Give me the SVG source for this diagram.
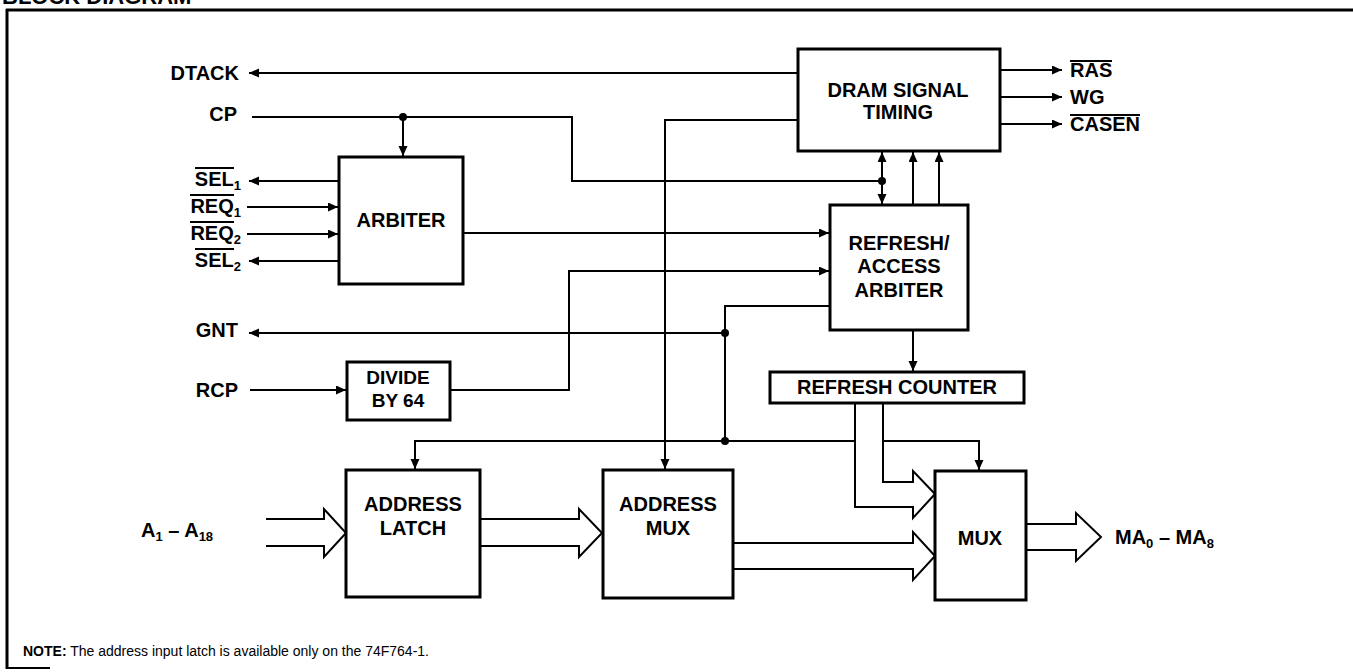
<svg xmlns="http://www.w3.org/2000/svg" width="1353" height="672" viewBox="0 0 1353 672">
<style>
text{font-family:"Liberation Sans",Arial,Helvetica,sans-serif;font-weight:bold;font-size:20px;fill:#000}
.box{fill:#fff;stroke:#000;stroke-width:3}
.w{fill:none;stroke:#000;stroke-width:2}
.bus{fill:#fff;stroke:#000;stroke-width:2;stroke-linejoin:miter}
.ol{stroke:#000;stroke-width:2}
.dot{fill:#000}
.note{font-size:14px;font-weight:normal}
.c{text-anchor:middle}
.e{text-anchor:end}
</style>
<defs>
<marker id="ah" markerUnits="userSpaceOnUse" markerWidth="11" markerHeight="10" refX="10" refY="4.5" orient="auto">
<path d="M0,0 L10,4.5 L0,9 z" fill="#000"/>
</marker>
</defs>
<rect width="1353" height="672" fill="#fff"/>

<g id="frame">
<text x="2" y="4" style="font-size:22px">BLOCK DIAGRAM</text>
<line x1="6" y1="10" x2="1353" y2="10" stroke="#000" stroke-width="3"/>
<line x1="7" y1="9" x2="7" y2="669" stroke="#000" stroke-width="3"/>
<line x1="6" y1="668" x2="50" y2="668" stroke="#000" stroke-width="2"/>
</g>

<g id="connectors">
<line class="w" x1="798" y1="73" x2="249" y2="73" marker-end="url(#ah)"/>
<polyline class="w" points="252,117 572,117 572,181 882,181"/>
<line class="w" x1="403" y1="117" x2="403" y2="156" marker-end="url(#ah)"/>
<line class="w" x1="882" y1="181" x2="882" y2="152" marker-end="url(#ah)"/>
<line class="w" x1="882" y1="181" x2="882" y2="204" marker-end="url(#ah)"/>
<line class="w" x1="913" y1="205" x2="913" y2="152" marker-end="url(#ah)"/>
<line class="w" x1="939" y1="205" x2="939" y2="152" marker-end="url(#ah)"/>
<line class="w" x1="339" y1="181" x2="249" y2="181" marker-end="url(#ah)"/>
<line class="w" x1="247" y1="207" x2="338" y2="207" marker-end="url(#ah)"/>
<line class="w" x1="247" y1="234" x2="338" y2="234" marker-end="url(#ah)"/>
<line class="w" x1="339" y1="261" x2="249" y2="261" marker-end="url(#ah)"/>
<line class="w" x1="463" y1="233" x2="829" y2="233" marker-end="url(#ah)"/>
<line class="w" x1="250" y1="390" x2="346" y2="390" marker-end="url(#ah)"/>
<polyline class="w" points="450,390 569,390 569,271 829,271" marker-end="url(#ah)"/>
<polyline class="w" points="798,120 665,120 665,469" marker-end="url(#ah)"/>
<polyline class="w" points="830,306 725,306 725,441"/>
<line class="w" x1="725" y1="333" x2="249" y2="333" marker-end="url(#ah)"/>
<polyline class="w" points="725,441 415,441 415,469" marker-end="url(#ah)"/>
<line class="w" x1="725" y1="441" x2="855" y2="441"/>
<polyline class="w" points="883,441 979,441 979,470" marker-end="url(#ah)"/>
<line class="w" x1="913" y1="330" x2="913" y2="371" marker-end="url(#ah)"/>
<path class="bus" d="M266,519 L324,519 L324,509 L346,533 L324,557 L324,546 L266,546"/>
<path class="bus" d="M480,519 L579,519 L579,509 L602,533 L579,557 L579,546 L480,546"/>
<path class="bus" d="M733,543 L913,543 L913,532 L935,556 L913,580 L913,569 L733,569"/>
<path class="bus" d="M883,403 L883,482 L913,482 L913,471 L935,494 L913,518 L913,507 L855,507 L855,403"/>
<path class="bus" d="M1026,524 L1076,524 L1076,513 L1101,537 L1076,561 L1076,550 L1026,550"/>
<circle class="dot" cx="403" cy="117" r="4"/>
<circle class="dot" cx="882" cy="181" r="4"/>
<circle class="dot" cx="725" cy="333" r="4"/>
<circle class="dot" cx="725" cy="441" r="4"/>
<line class="w" x1="1000" y1="70" x2="1062" y2="70" marker-end="url(#ah)"/>
<line class="w" x1="1000" y1="97" x2="1062" y2="97" marker-end="url(#ah)"/>
<line class="w" x1="1000" y1="124" x2="1062" y2="124" marker-end="url(#ah)"/>
</g>

<g id="labels">
<text class="e" x="239" y="80">DTACK</text>
<text class="e" x="237" y="121">CP</text>
<text class="e" x="241" y="186">SEL<tspan dy="4" style="font-size:13px">1</tspan></text>
<line class="ol" x1="195" y1="168" x2="234" y2="168"/>
<text class="e" x="241" y="213">REQ<tspan dy="4" style="font-size:13px">1</tspan></text>
<line class="ol" x1="190" y1="195" x2="234" y2="195"/>
<text class="e" x="241" y="240">REQ<tspan dy="4" style="font-size:13px">2</tspan></text>
<line class="ol" x1="190" y1="222" x2="234" y2="222"/>
<text class="e" x="241" y="267">SEL<tspan dy="4" style="font-size:13px">2</tspan></text>
<line class="ol" x1="195" y1="249" x2="234" y2="249"/>
<text class="e" x="238" y="337">GNT</text>
<text class="e" x="238" y="397">RCP</text>
<text x="141" y="537">A<tspan dy="4" style="font-size:13px">1</tspan><tspan dy="-4"> – A</tspan><tspan dy="4" style="font-size:13px">18</tspan></text>
<text x="1115" y="544">MA<tspan dy="4" style="font-size:13px">0</tspan><tspan dy="-4"> – MA</tspan><tspan dy="4" style="font-size:13px">8</tspan></text>
<text x="1070" y="77">RAS</text>
<line class="ol" x1="1070" y1="61" x2="1112" y2="61"/>
<text x="1070" y="104">WG</text>
<text x="1070" y="131">CASEN</text>
<line class="ol" x1="1070" y1="115" x2="1140" y2="115"/>
</g>

<g id="arbiter">
<rect class="box" x="339" y="157" width="124" height="127"/>
<text class="c" x="401" y="227">ARBITER</text>
</g>
<g id="divide">
<rect class="box" x="347" y="362" width="103" height="58"/>
<text class="c" x="398" y="384" style="font-size:19px">DIVIDE</text>
<text class="c" x="398" y="407" style="font-size:19px">BY 64</text>
</g>
<g id="dram-timing">
<rect class="box" x="798" y="49" width="202" height="102"/>
<text class="c" x="898" y="97">DRAM SIGNAL</text>
<text class="c" x="898" y="119">TIMING</text>
</g>
<g id="refresh-arbiter">
<rect class="box" x="830" y="205" width="138" height="125"/>
<text class="c" x="899" y="250">REFRESH/</text>
<text class="c" x="899" y="273">ACCESS</text>
<text class="c" x="899" y="297">ARBITER</text>
</g>
<g id="refresh-counter">
<rect class="box" x="770" y="372" width="254" height="31"/>
<text class="c" x="897" y="394">REFRESH COUNTER</text>
</g>
<g id="address-latch">
<rect class="box" x="346" y="470" width="134" height="127"/>
<text class="c" x="413" y="511">ADDRESS</text>
<text class="c" x="413" y="535">LATCH</text>
</g>
<g id="address-mux">
<rect class="box" x="603" y="470" width="130" height="128"/>
<text class="c" x="668" y="511">ADDRESS</text>
<text class="c" x="668" y="535">MUX</text>
</g>
<g id="mux">
<rect class="box" x="935" y="471" width="91" height="129"/>
<text class="c" x="980" y="545">MUX</text>
</g>

<g id="note">
<text class="note" x="23" y="656"><tspan style="font-weight:bold">NOTE:</tspan> The address input latch is available only on the 74F764-1.</text>
</g>
</svg>
